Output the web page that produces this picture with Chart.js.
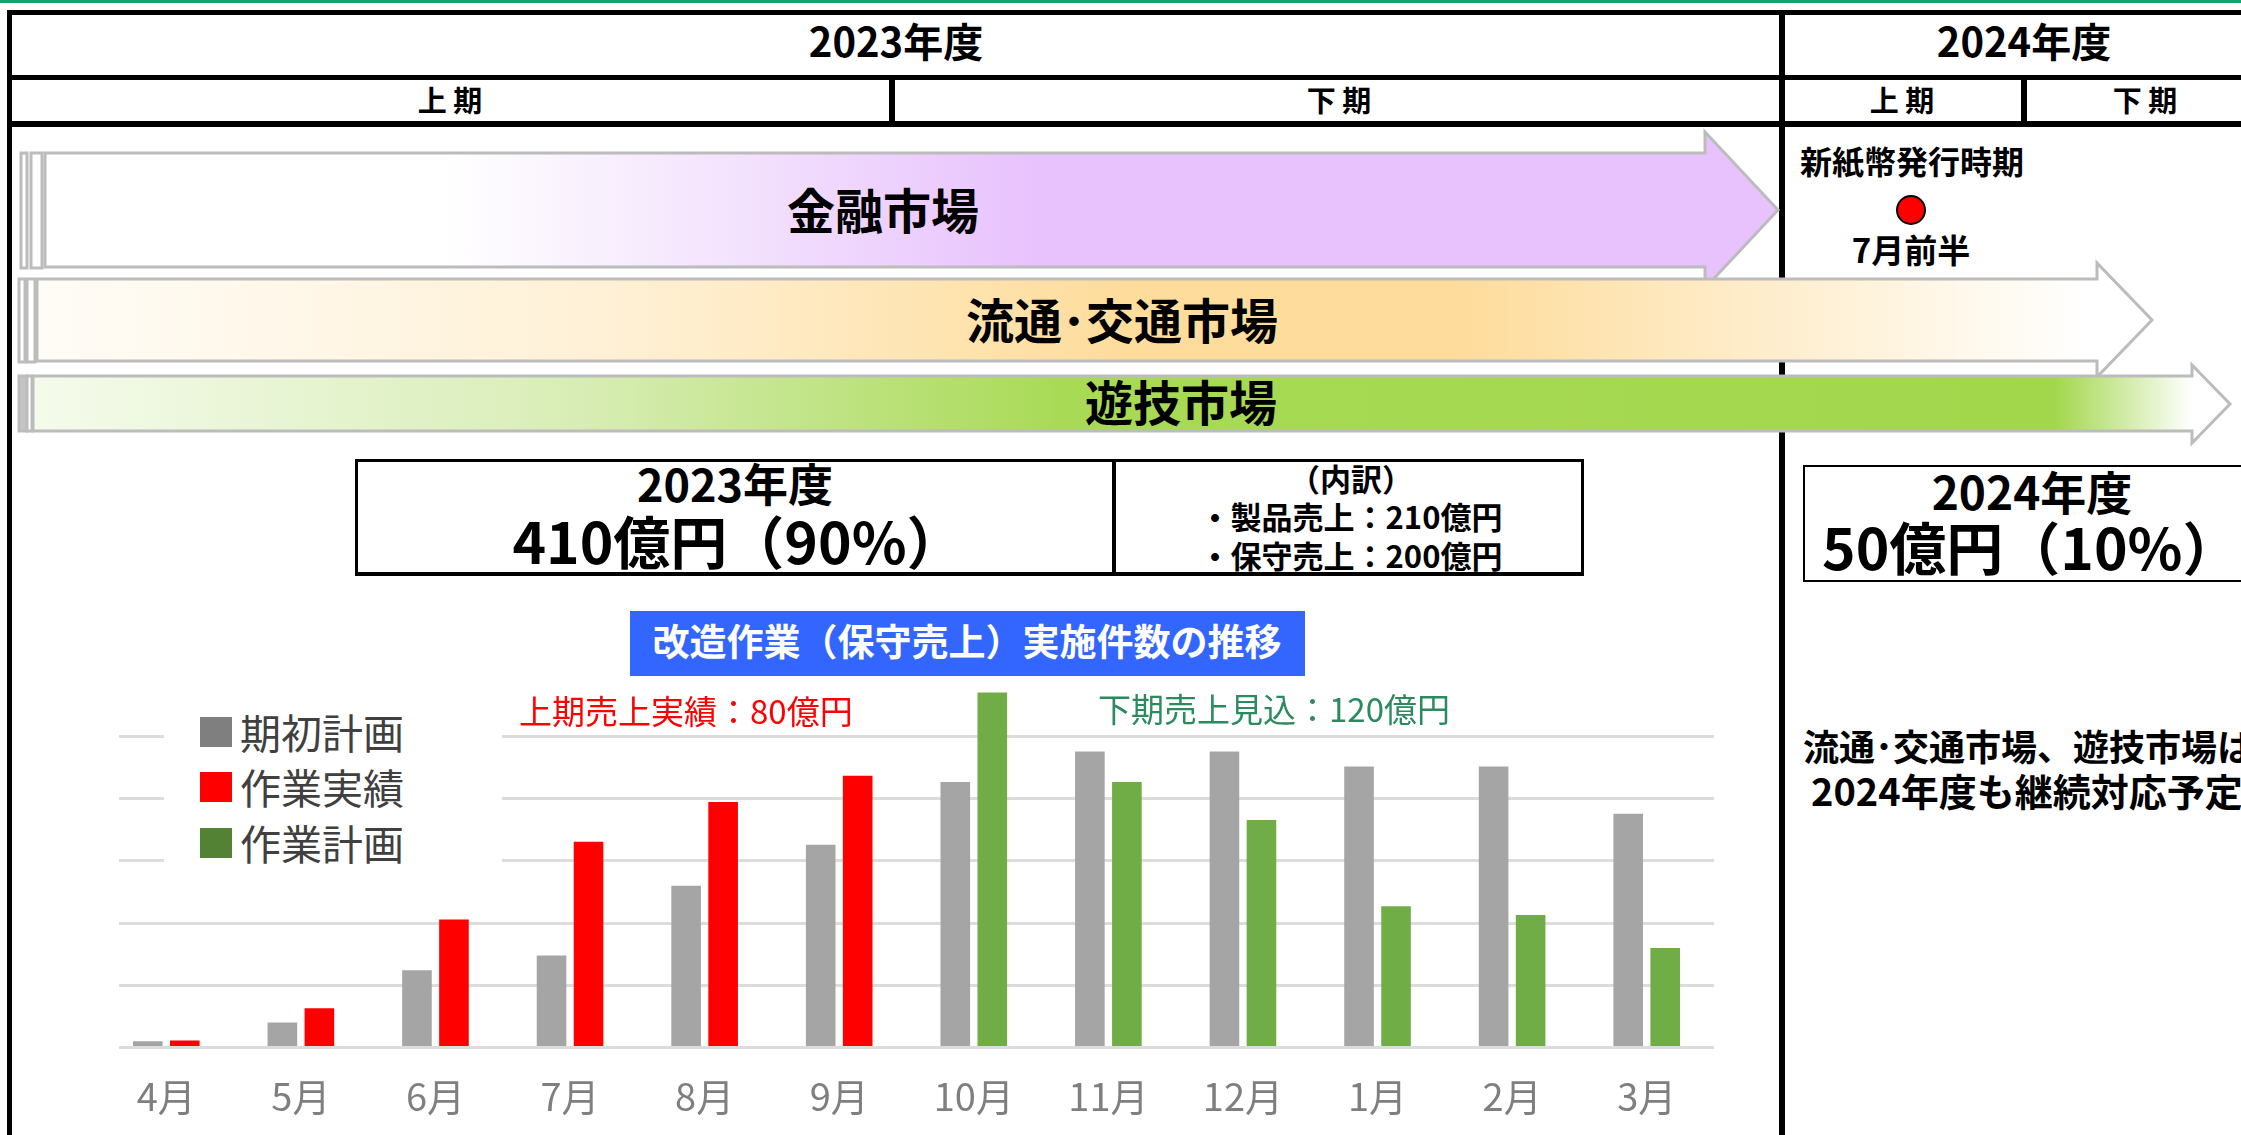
<!DOCTYPE html>
<html lang="ja">
<head>
<meta charset="utf-8">
<title>改造作業（保守売上）実施件数の推移</title>
<script src="https://cdn.jsdelivr.net/npm/chart.js@4.4.1/dist/chart.umd.min.js"></script>
<style>
    html, body { margin: 0; padding: 0; background: #fff; }
    #page {
        position: relative;
        width: 2241px;
        height: 1135px;
        overflow: hidden;
        background: #fff;
        font-family: "Noto Sans CJK JP", "Noto Sans", sans-serif;
        color: #000;
    }
    .line { position: absolute; background: #000; }
    .txt { position: absolute; white-space: nowrap; line-height: 1; font-weight: 700; }
    .c { transform: translate(-50%, -59%); }
    .l { transform: translate(0, -59%); }
    .box { position: absolute; box-sizing: border-box; border: 3px solid #000; background: #fff; }
    .legend-item { position: absolute; left: 0; height: 32px; }
    .legend-item span.sw { position: absolute; left: 0; top: 0; width: 32px; height: 30px; }
    .legend-item span.lb { position: absolute; left: 40px; top: -6px; font-size: 41px; line-height: 41px; color: #404040; white-space: nowrap; }
    #chartWrap { position: absolute; left: 99px; top: 687px; width: 1615px; height: 458px; }
</style>
</head>
<body>
<div id="page">
    <!-- thin green line along the top -->
    <div class="line" style="left:0;top:0;width:2241px;height:3px;background:#18a06e"></div>

    <!-- header table -->
    <div class="line" style="left:7px;top:10px;width:2234px;height:5px"></div>
    <div class="line" style="left:7px;top:75px;width:2234px;height:5px"></div>
    <div class="line" style="left:7px;top:121px;width:2234px;height:6px"></div>
    <div class="line" style="left:7px;top:10px;width:5px;height:1125px"></div>
    <div class="line" style="left:1779px;top:10px;width:6px;height:1125px"></div>
    <div class="line" style="left:889px;top:75px;width:6px;height:52px"></div>
    <div class="line" style="left:2021px;top:75px;width:6px;height:52px"></div>

    <div class="txt c" style="left:896px;top:44px;font-size:40px">2023年度</div>
    <div class="txt c" style="left:2024px;top:44px;font-size:40px">2024年度</div>
    <div class="txt c" style="left:450px;top:102px;font-size:29px">上 期</div>
    <div class="txt c" style="left:1339px;top:102px;font-size:29px">下 期</div>
    <div class="txt c" style="left:1902px;top:102px;font-size:29px">上 期</div>
    <div class="txt c" style="left:2145px;top:102px;font-size:29px">下 期</div>

    <!-- market arrows -->
    <svg style="position:absolute;left:0;top:0" width="2241" height="1135">
        <defs>
            <linearGradient id="gPurple" gradientUnits="userSpaceOnUse" x1="45" y1="0" x2="1778" y2="0">
                <stop offset="0" stop-color="#ffffff"/>
                <stop offset="0.23" stop-color="#ffffff"/>
                <stop offset="0.40" stop-color="#f3e2fd"/>
                <stop offset="0.57" stop-color="#e8c2fd"/>
                <stop offset="1" stop-color="#e8c2fd"/>
            </linearGradient>
            <linearGradient id="gOrange" gradientUnits="userSpaceOnUse" x1="37" y1="0" x2="2152" y2="0">
                <stop offset="0" stop-color="#fffcf7"/>
                <stop offset="0.28" stop-color="#fff0d4"/>
                <stop offset="0.52" stop-color="#fedc9b"/>
                <stop offset="0.67" stop-color="#fedc9b"/>
                <stop offset="0.97" stop-color="#ffffff"/>
                <stop offset="1" stop-color="#ffffff"/>
            </linearGradient>
            <linearGradient id="gGreen" gradientUnits="userSpaceOnUse" x1="33" y1="0" x2="2230" y2="0">
                <stop offset="0" stop-color="#f5fbec"/>
                <stop offset="0.25" stop-color="#d8edb5"/>
                <stop offset="0.47" stop-color="#a8da55"/>
                <stop offset="0.92" stop-color="#a2d74c"/>
                <stop offset="0.983" stop-color="#ffffff"/>
                <stop offset="1" stop-color="#ffffff"/>
            </linearGradient>
        </defs>
        <g stroke="#bcbcbc" stroke-width="3">
            <rect x="21" y="153" width="6" height="115" fill="#fff"/>
            <rect x="31" y="153" width="11" height="115" fill="#fff"/>
            <polygon points="45,153 1705,153 1705,132 1778,210 1705,288 1705,267 45,267" fill="url(#gPurple)"/>

            <rect x="19" y="279" width="6" height="83" fill="#fff"/>
            <rect x="27" y="279" width="8" height="83" fill="#fff"/>
            <polygon points="37,279 2097,279 2097,263 2152,320 2097,377 2097,361 37,361" fill="url(#gOrange)"/>

            <rect x="19" y="376" width="8" height="55" fill="#c4c4c4"/>
            <rect x="27" y="376" width="5" height="55" fill="#fff"/>
            <polygon points="33,376 2192,376 2192,365 2230,404 2192,443 2192,431 33,431" fill="url(#gGreen)"/>
        </g>
        <circle cx="1911" cy="210" r="14" fill="#ff0000" stroke="#000" stroke-width="2"/>
    </svg>

    <div class="txt c" style="left:883px;top:212px;font-size:48px">金融市場</div>
    <div class="txt c" style="left:1122px;top:322px;font-size:48px">流通･交通市場</div>
    <div class="txt c" style="left:1181px;top:404px;font-size:48px">遊技市場</div>
    <div class="txt l" style="left:1800px;top:163px;font-size:32px">新紙幣発行時期</div>
    <div class="txt c" style="left:1911px;top:252px;font-size:33px">7月前半</div>

    <!-- sales boxes -->
    <div class="box" style="left:355px;top:459px;width:760px;height:117px;border-bottom-width:4px"></div>
    <div class="box" style="left:1113px;top:459px;width:471px;height:117px;border-bottom-width:4px"></div>
    <div class="txt c" style="left:735px;top:487px;font-size:45px">2023年度</div>
    <div class="txt c" style="left:738px;top:545px;font-size:57px">410億円（90%）</div>
    <div class="txt c" style="left:1351px;top:480px;font-size:31px">（内訳）</div>
    <div class="txt c" style="left:1351px;top:518px;font-size:31px">・製品売上：210億円</div>
    <div class="txt c" style="left:1351px;top:557px;font-size:31px">・保守売上：200億円</div>

    <div class="box" style="left:1803px;top:465px;width:520px;height:117px;border-width:2px"></div>
    <div class="txt c" style="left:2032px;top:494px;font-size:46px">2024年度</div>
    <div class="txt l" style="left:1822px;top:551px;font-size:57px">50億円（10%）</div>

    <div class="txt l" style="left:1803px;top:748px;font-size:36px">流通･交通市場、遊技市場は</div>
    <div class="txt l" style="left:1811px;top:793px;font-size:38px">2024年度も継続対応予定</div>

    <!-- chart title -->
    <div style="position:absolute;left:630px;top:611px;width:675px;height:65px;background:#3366ff"></div>
    <div class="txt c" style="left:967px;top:644px;font-size:37px;color:#fff">改造作業（保守売上）実施件数の推移</div>

    <!-- bar chart -->
    <div id="chartWrap"><canvas id="workChart"></canvas></div>
    <!-- the source picture starts a little inside the plot, hide the gridline stubs -->
    <div style="position:absolute;left:95px;top:680px;width:24px;height:372px;background:#fff"></div>

    <div style="position:absolute;left:164px;top:700px;width:338px;height:175px;background:#fff"></div>
    <div id="legend" style="position:absolute;left:200px;top:717px;width:300px;height:150px"></div>

    <div class="txt l" style="left:519px;top:713px;font-size:33px;font-weight:400;color:#ff0000">上期売上実績：80億円</div>
    <div class="txt l" style="left:1098px;top:711px;font-size:33px;font-weight:400;color:#2b8a5e">下期売上見込：120億円</div>
</div>

<script>
// Months of the fiscal year (April to March)
const months = ['4月', '5月', '6月', '7月', '8月', '9月', '10月', '11月', '12月', '1月', '2月', '3月'];

// Number of modification jobs, one gridline step = 10
const initialPlan = [1.0, 4.0, 12.4, 14.8, 26.0, 32.6, 42.7, 47.6, 47.6, 45.2, 45.2, 37.6]; // 期初計画
const workActual = [1.1, 6.3, 20.6, 33.1, 39.5, 43.7, null, null, null, null, null, null]; // 作業実績
const workPlan = [null, null, null, null, null, null, 57.1, 42.7, 36.6, 22.7, 21.3, 16.0]; // 作業計画

// Gridlines drawn on the value axis
const gridValues = [0, 10, 20, 30, 40, 50];

// Series names and colours (legend swatches are a shade darker than the bars)
const seriesNames = ['期初計画', '作業実績', '作業計画'];
const barColors = ['#a5a5a5', '#ff0000', '#70ad47'];
const legendColors = ['#7f7f7f', '#ff0000', '#548235'];

// Builds the legend in the top left corner of the plot
const legendBox = document.getElementById('legend');
const legendTops = [0, 55, 111];
seriesNames.forEach((name, i) => {
    const item = document.createElement('div');
    item.className = 'legend-item';
    item.style.top = legendTops[i] + 'px';
    item.innerHTML = '<span class="sw" style="background:' + legendColors[i] + '"></span><span class="lb">' + name + '</span>';
    legendBox.appendChild(item);
});

const data = {
    labels: months,
    datasets: [
        { label: seriesNames[0], data: initialPlan, backgroundColor: barColors[0], stack: 'plan' },
        { label: seriesNames[1], data: workActual, backgroundColor: barColors[1], stack: 'work' },
        { label: seriesNames[2], data: workPlan, backgroundColor: barColors[2], stack: 'work' },
    ],
};

const config = {
    type: 'bar',
    data: data,
    options: {
        responsive: true,
        maintainAspectRatio: false,
        animation: false,
        devicePixelRatio: 1,
        categoryPercentage: 0.55,
        barPercentage: 0.8,
        layout: { padding: 0 },
        scales: {
            x: {
                grid: { display: false, drawTicks: false },
                border: { display: false },
                ticks: {
                    color: '#7f7f7f',
                    padding: 26,
                    font: { family: '"Noto Sans CJK JP", sans-serif', size: 38 },
                },
            },
            y: {
                min: 0,
                max: 58,
                border: { display: false },
                grid: { color: '#dcdcdc', lineWidth: 3, drawTicks: false },
                ticks: { display: false },
                afterBuildTicks: (scale) => {
                    scale.ticks = gridValues.map((v) => ({ value: v }));
                },
                afterFit: (scale) => {
                    scale.width = 0;
                },
            },
        },
        plugins: {
            legend: { display: false },
            tooltip: { enabled: false },
        },
    },
};

new Chart(document.getElementById('workChart'), config);
</script>
</body>
</html>
